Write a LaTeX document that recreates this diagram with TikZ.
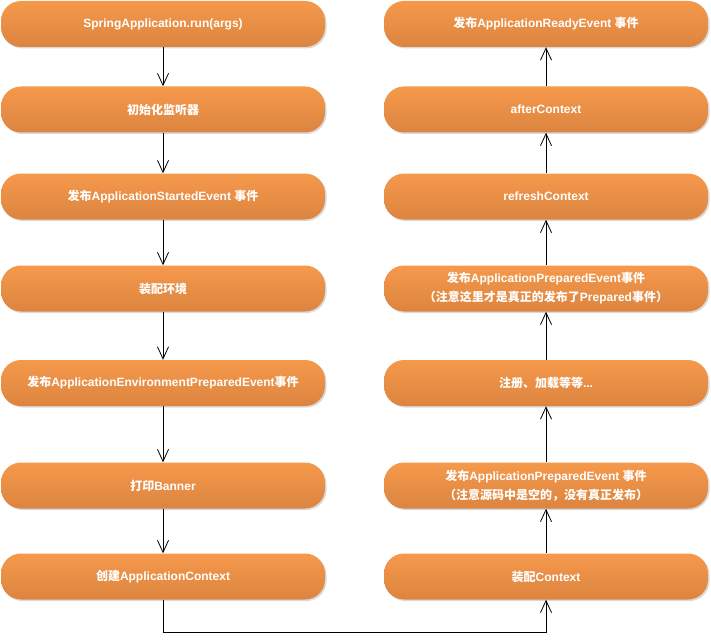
\documentclass[tikz,border=0pt]{standalone}
\usepackage{fontspec}
\setmainfont{Liberation Sans}
\newfontfamily\cjk{Noto Sans CJK SC}
\usetikzlibrary{arrows.meta,shadows}

\definecolor{stagetop}{HTML}{F5994B}
\definecolor{stagebot}{HTML}{DC8440}

\tikzset{
  stage/.style={rounded corners=20pt, minimum width=324pt, minimum height=46pt,
    top color=stagetop, bottom color=stagebot, draw=none,
    drop shadow={shadow xshift=1.5pt, shadow yshift=-1.5pt, fill=black, opacity=0.15},
    text=white, font=\fontsize{12}{19}\selectfont\bfseries, align=center, inner sep=0pt},
  flow/.style={-{Straight Barb[length=12pt,width=11pt]}, line width=0.8pt}
}

\begin{document}
\begin{tikzpicture}[x=1pt, y=-1pt]
  \useasboundingbox (0,0) rectangle (711,639);

  % left column: startup
  \node[stage] (l1) at (163,24)  {SpringApplication.run(args)};
  \node[stage] (l2) at (163,109.5) {{\cjk 初始化监听器}};
  \node[stage] (l3) at (163,196.5) {{\cjk 发布}ApplicationStartedEvent {\cjk 事件}};
  \node[stage] (l4) at (163,288.5) {{\cjk 装配环境}};
  \node[stage] (l5) at (163,383) {{\cjk 发布}ApplicationEnvironmentPreparedEvent{\cjk 事件}};
  \node[stage] (l6) at (163,485.5) {{\cjk 打印}Banner};
  \node[stage] (l7) at (163,576.5) {{\cjk 创建}ApplicationContext};

  % right column: context
  \node[stage] (r1) at (546,24)  {{\cjk 发布}ApplicationReadyEvent {\cjk 事件}};
  \node[stage] (r2) at (546,109.5) {afterContext};
  \node[stage] (r3) at (546,196.5) {refreshContext};
  \node[stage] (r4) at (546,288.5) {{\cjk 发布}ApplicationPreparedEvent{\cjk 事件}\\{\cjk （注意这里才是真正的发布了}Prepared{\cjk 事件）}};
  \node[stage] (r5) at (546,383) {{\cjk 注册、加载等等}...};
  \node[stage] (r6) at (546,485.5) {{\cjk 发布}ApplicationPreparedEvent {\cjk 事件}\\{\cjk （注意源码中是空的，没有真正发布）}};
  \node[stage] (r7) at (546,576.5) {{\cjk 装配}Context};

  \draw[flow] (l1) -- (l2);
  \draw[flow] (l2) -- (l3);
  \draw[flow] (l3) -- (l4);
  \draw[flow] (l4) -- (l5);
  \draw[flow] (l5) -- (l6);
  \draw[flow] (l6) -- (l7);

  \coordinate (turn) at (163,632);
  \draw[flow] (l7.south) -- (turn) -| (r7.south);

  \draw[flow] (r7) -- (r6);
  \draw[flow] (r6) -- (r5);
  \draw[flow] (r5) -- (r4);
  \draw[flow] (r4) -- (r3);
  \draw[flow] (r3) -- (r2);
  \draw[flow] (r2) -- (r1);
\end{tikzpicture}
\end{document}
